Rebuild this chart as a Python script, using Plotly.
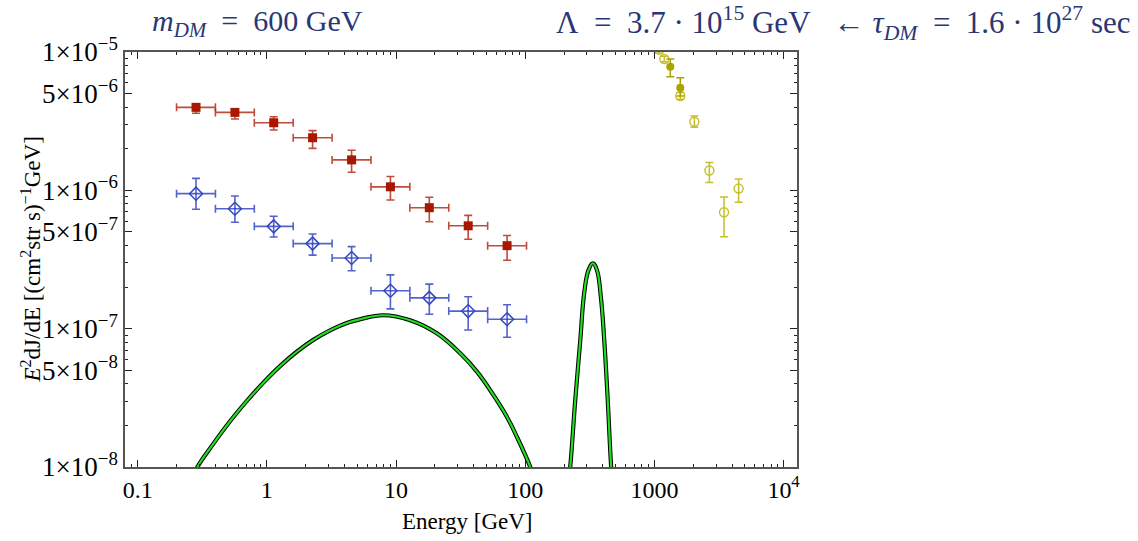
import plotly.graph_objects as go

# ---- energy bins shared by the two low-energy data sets (GeV) ----
bin_lo = [0.2, 0.4, 0.8, 1.6, 3.2, 6.4, 12.8, 25.6, 51.2]
bin_hi = [0.4, 0.8, 1.6, 3.2, 6.4, 12.8, 25.6, 51.2, 102.4]
bin_center = [0.283, 0.566, 1.13, 2.26, 4.53, 9.05, 18.1, 36.2, 72.4]

# ---- red data set (filled squares) ----
red_flux = [3.98e-6, 3.66e-6, 3.08e-6, 2.40e-6, 1.66e-6, 1.06e-6, 7.49e-7, 5.54e-7, 3.98e-7]
red_hi = [4.21e-6, 3.86e-6, 3.40e-6, 2.70e-6, 1.95e-6, 1.26e-6, 8.91e-7, 6.59e-7, 4.72e-7]
red_lo = [3.61e-6, 3.28e-6, 2.73e-6, 2.01e-6, 1.35e-6, 8.51e-7, 5.93e-7, 4.43e-7, 3.12e-7]

# ---- blue data set (open diamonds) ----
blue_flux = [9.46e-7, 7.36e-7, 5.49e-7, 4.12e-7, 3.24e-7, 1.88e-7, 1.67e-7, 1.34e-7, 1.17e-7]
blue_hi = [1.22e-6, 9.10e-7, 6.49e-7, 4.83e-7, 3.92e-7, 2.45e-7, 2.10e-7, 1.70e-7, 1.49e-7]
blue_lo = [7.30e-7, 5.88e-7, 4.60e-7, 3.40e-7, 2.62e-7, 1.39e-7, 1.27e-7, 9.77e-8, 8.67e-8]

# ---- high-energy data (olive) ----
ylw_fill_E = [1328, 1587]
ylw_fill_flux = [7.83e-6, 5.52e-6]
ylw_fill_hi = [8.9e-6, 6.52e-6]
ylw_fill_lo = [6.62e-6, 4.81e-6]

ylw_open_E = [1090, 1193, 1587, 2039, 2664, 3462, 4490]
ylw_open_flux = [1.04e-5, 8.9e-6, 4.81e-6, 3.13e-6, 1.39e-6, 6.94e-7, 1.03e-6]
ylw_open_hi = [1.10e-5, 9.3e-6, 5.1e-6, 3.44e-6, 1.59e-6, 8.95e-7, 1.21e-6]
ylw_open_lo = [9.78e-6, 8.5e-6, 4.55e-6, 2.86e-6, 1.14e-6, 4.62e-7, 8.19e-7]

# ---- model spectrum: continuum part ----
cont_E = [0.27, 0.290, 0.385, 0.519, 0.699, 0.940, 1.265, 1.705, 2.29, 3.09, 4.16, 5.27,
          7.98, 12.85, 20.7, 31.4, 42.3, 56.8, 72.1, 86.3, 109.4, 118]
cont_flux = [8.5e-9, 1.00e-8, 1.47e-8, 2.14e-8, 3.00e-8, 4.07e-8, 5.36e-8, 6.81e-8, 8.30e-8,
             9.73e-8, 1.10e-7, 1.17e-7, 1.25e-7, 1.15e-7, 9.25e-8, 6.63e-8, 4.89e-8, 3.31e-8,
             2.31e-8, 1.65e-8, 1.00e-8, 8.0e-9]

# ---- model spectrum: line-like feature ----
line_E = [215, 223, 244, 267, 286, 309, 334, 359, 385, 409, 434, 463, 475]
line_flux = [7.5e-9, 1.0e-8, 3.05e-8, 8.28e-8, 1.80e-7, 2.65e-7, 2.97e-7, 2.65e-7, 1.70e-7,
             8.28e-8, 3.22e-8, 1.0e-8, 7.5e-9]

# ---- axis ticks ----
x_tickvals = [0.1, 1, 10, 100, 1000, 10000]
x_ticktext = ["0.1", "1", "10", "100", "1000", "10<sup>4</sup>"]
y_tickvals = [1e-8, 5e-8, 1e-7, 5e-7, 1e-6, 5e-6, 1e-5]
y_ticktext = ["1\u00d710<sup>\u22128</sup>", "5\u00d710<sup>\u22128</sup>",
              "1\u00d710<sup>\u22127</sup>", "5\u00d710<sup>\u22127</sup>",
              "1\u00d710<sup>\u22126</sup>", "5\u00d710<sup>\u22126</sup>",
              "1\u00d710<sup>\u22125</sup>"]

SERIF = "Liberation Serif"
NAVY = "#2b3775"
EQ = "\u2002=\u2002"  # relation sign with wider spacing, as in typeset math


def minus(vals, ref):
    return [r - v for v, r in zip(vals, ref)]


def plus(vals, ref):
    return [v - r for v, r in zip(vals, ref)]


fig = go.Figure()

# model curves: dark outline under a green core
for xs, ys in [(cont_E, cont_flux), (line_E, line_flux)]:
    fig.add_trace(go.Scatter(x=xs, y=ys, mode="lines",
                             line=dict(color="black", width=4.2, shape="spline", smoothing=1.2),
                             hoverinfo="skip", showlegend=False))
    fig.add_trace(go.Scatter(x=xs, y=ys, mode="lines",
                             line=dict(color="#22dd22", width=2.2, shape="spline", smoothing=1.2),
                             hoverinfo="skip", showlegend=False))

# red points
fig.add_trace(go.Scatter(
    x=bin_center, y=red_flux, mode="markers",
    marker=dict(symbol="square", size=9, color="#a81800"),
    error_y=dict(type="data", symmetric=False, array=plus(red_hi, red_flux),
                 arrayminus=minus(red_lo, red_flux), color="rgba(175,30,10,0.8)", thickness=1.6, width=4),
    error_x=dict(type="data", symmetric=False, array=plus(bin_hi, bin_center),
                 arrayminus=minus(bin_lo, bin_center), color="rgba(175,30,10,0.8)", thickness=1.6, width=4),
    showlegend=False))

# blue points
fig.add_trace(go.Scatter(
    x=bin_center, y=blue_flux, mode="markers",
    marker=dict(symbol="diamond-open", size=10, color="#3348c0", line=dict(width=1.5)),
    error_y=dict(type="data", symmetric=False, array=plus(blue_hi, blue_flux),
                 arrayminus=minus(blue_lo, blue_flux), color="rgba(40,60,190,0.8)", thickness=1.6, width=4),
    error_x=dict(type="data", symmetric=False, array=plus(bin_hi, bin_center),
                 arrayminus=minus(bin_lo, bin_center), color="rgba(40,60,190,0.8)", thickness=1.6, width=4),
    showlegend=False))

# olive points
fig.add_trace(go.Scatter(
    x=ylw_open_E, y=ylw_open_flux, mode="markers",
    marker=dict(symbol="circle-open", size=9, color="#c4bf30", line=dict(width=1.4)),
    error_y=dict(type="data", symmetric=False, array=plus(ylw_open_hi, ylw_open_flux),
                 arrayminus=minus(ylw_open_lo, ylw_open_flux), color="#c4bf30", thickness=1.5, width=4),
    showlegend=False))
fig.add_trace(go.Scatter(
    x=ylw_fill_E, y=ylw_fill_flux, mode="markers",
    marker=dict(symbol="circle", size=8, color="#aaa400"),
    error_y=dict(type="data", symmetric=False, array=plus(ylw_fill_hi, ylw_fill_flux),
                 arrayminus=minus(ylw_fill_lo, ylw_fill_flux), color="#aaa400", thickness=1.5, width=4),
    showlegend=False))

axis_common = dict(
    showline=True, linecolor="#555555", linewidth=1.5, mirror="ticks",
    ticks="inside", ticklen=7, tickcolor="#222222", tickwidth=1,
    showgrid=False, zeroline=False,
    minor=dict(ticks="inside", ticklen=3.5, tickcolor="#222222", dtick="D1", showgrid=False),
)

fig.update_xaxes(type="log", range=[-1.098, 4.104], tickmode="array",
                 tickvals=x_tickvals, ticktext=x_ticktext,
                 tickfont=dict(family=SERIF, size=24, color="black"), **axis_common)
fig.update_yaxes(type="log", range=[-8, -5], tickmode="array",
                 tickvals=y_tickvals, ticktext=y_ticktext,
                 tickfont=dict(family=SERIF, size=27, color="black"), **axis_common)

fig.update_layout(
    width=1138, height=541,
    margin=dict(l=125, r=341, t=52, b=74),
    paper_bgcolor="white", plot_bgcolor="white",
    annotations=[
        dict(text="<i>m</i><sub><i>DM</i></sub>" + EQ + "600 GeV", xref="paper", yref="paper",
             x=0.037, y=1.07, xanchor="left", yanchor="middle", showarrow=False,
             font=dict(family=SERIF, size=30, color=NAVY)),
        dict(text="\u039b" + EQ + "3.7 \u00b7 10<sup>15</sup> GeV\u2002 \u2190 "
                  + "<i>\u03c4</i><sub><i>DM</i></sub>" + EQ + "1.6 \u00b7 10<sup>27</sup> sec",
             xref="paper", yref="paper", x=1.4985, y=1.07, xanchor="right", yanchor="middle",
             showarrow=False, font=dict(family=SERIF, size=31, color=NAVY)),
        dict(text="<i>E</i><sup>2</sup>dJ/dE [(cm<sup>2</sup>str s)<sup>\u22121</sup>GeV]",
             xref="paper", yref="paper", x=-0.139, y=0.499, textangle=-90,
             xanchor="center", yanchor="middle", showarrow=False,
             font=dict(family=SERIF, size=23, color="black")),
        dict(text="Energy [GeV]", xref="paper", yref="paper", x=0.509, y=-0.1325,
             xanchor="center", yanchor="middle", showarrow=False,
             font=dict(family=SERIF, size=23, color="black")),
    ],
)

fig.write_html("out.html")
